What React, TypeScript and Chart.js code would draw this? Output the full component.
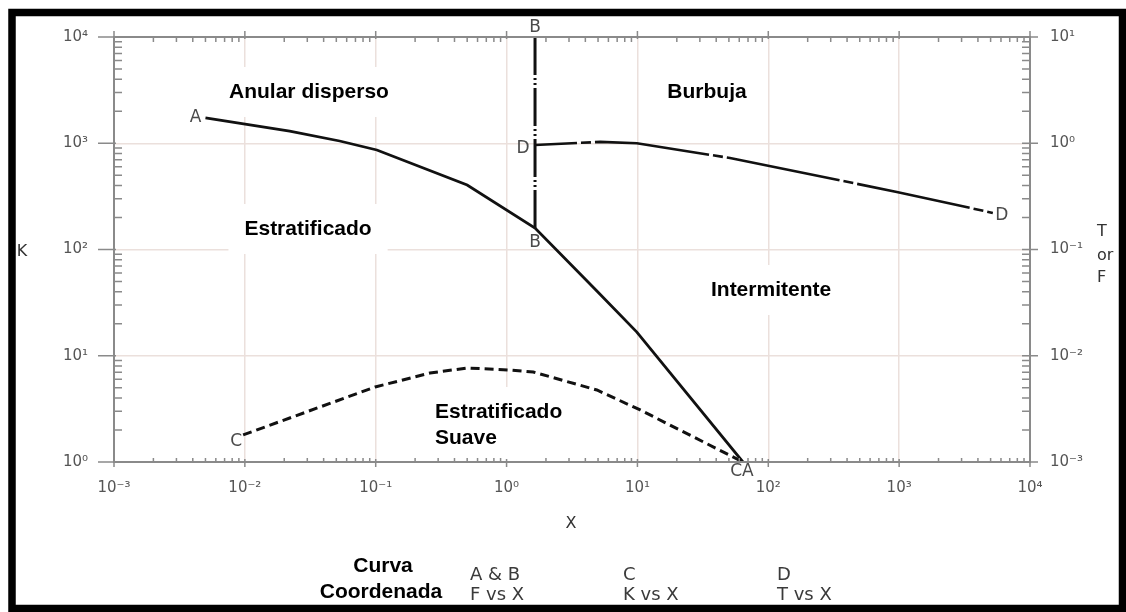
import React, { useEffect, useRef } from "react";
import { Chart, registerables } from "chart.js";

Chart.register(...registerables);

// ---- Axis ranges ----
const X_MIN = 1e-3;
const X_MAX = 1e4;
const K_MIN = 1;
const K_MAX = 1e4;
const TF_MIN = 1e-3;
const TF_MAX = 10;

// ---- Tick exponents ----
const xExponents = [-3, -2, -1, 0, 1, 2, 3, 4];
const kExponents = [0, 1, 2, 3, 4];
const tfExponents = [-3, -2, -1, 0, 1];

// ---- Curve A (F vs X) ----
const curveAX = [0.005, 0.022, 0.053, 0.102, 0.5, 1.65, 4.9, 9.9, 64];
const curveAF = [1.73, 1.3, 1.05, 0.864, 0.405, 0.159, 0.0407, 0.0167, 0.001];

// ---- Curve B (F vs X) ----
const curveBX = [1.65, 1.65];
const curveBF = [10, 0.159];

// ---- Curve C (K vs X) ----
const curveCX = [0.0097, 0.099, 0.26, 0.5, 1.06, 1.6, 4.9, 10.5, 64];
const curveCK = [1.8, 5.08, 6.88, 7.67, 7.34, 7.03, 4.76, 3.09, 1.0];

// ---- Curve D (T vs X) ----
const curveDX = [1.65, 5.2, 9.9, 51, 960, 5200];
const curveDT = [0.963, 1.03, 1.0, 0.726, 0.348, 0.221];

// ---- Region labels (anchored at X, K) ----
const regionLabels = [
  { lines: ["Anular disperso"], x: 0.0309, k: 3035, align: "center" },
  { lines: ["Burbuja"], x: 34.0, k: 3035, align: "center" },
  { lines: ["Estratificado"], x: 0.0304, k: 156, align: "center" },
  { lines: ["Intermitente"], x: 105, k: 41.6, align: "center" },
  { lines: ["Estratificado", "Suave"], x: 0.284, k: 2.23, align: "left" },
];

// ---- Legend texts at the bottom ----
const legendTitle = ["Curva", "Coordenada"];
const legendCols = [
  ["A & B", "F vs X"],
  ["C", "K vs X"],
  ["D", "T vs X"],
];

const SUP: Record<string, string> = {
  "-": "\u207B",
  "0": "\u2070",
  "1": "\u00B9",
  "2": "\u00B2",
  "3": "\u00B3",
  "4": "\u2074",
  "5": "\u2075",
  "6": "\u2076",
  "7": "\u2077",
  "8": "\u2078",
  "9": "\u2079",
};

function powLabel(v: number): string {
  const e = Math.round(Math.log10(v));
  return "10" + String(e).split("").map((c) => SUP[c] || c).join("");
}

function zip(xs: number[], ys: number[]) {
  return xs.map((x, i) => ({ x, y: ys[i] }));
}

const AXIS_COLOR = "#8a8a8a";
const GRID_COLOR = "#ebe0dc";
const TICK_FONT = '"DejaVu Sans", sans-serif';
const BOLD_FONT = '"Liberation Sans", Arial, sans-serif';

function text(
  ctx: CanvasRenderingContext2D,
  s: string,
  x: number,
  y: number,
  font: string,
  color: string,
  align: CanvasTextAlign = "center",
  baseline: CanvasTextBaseline = "middle"
) {
  ctx.save();
  ctx.font = font;
  ctx.fillStyle = color;
  ctx.textAlign = align;
  ctx.textBaseline = baseline;
  ctx.fillText(s, x, y);
  ctx.restore();
}

const decorPlugin = {
  id: "decor",
  beforeDraw(chart: any) {
    const ctx = chart.ctx as CanvasRenderingContext2D;
    ctx.save();
    ctx.fillStyle = "#ffffff";
    ctx.fillRect(0, 0, chart.width, chart.height);
    ctx.restore();
  },
  beforeDatasetsDraw(chart: any) {
    const ctx = chart.ctx as CanvasRenderingContext2D;
    const xs = chart.scales.x;
    const ys = chart.scales.y;
    const font = "bold 21px " + BOLD_FONT;
    const lineH = 26;
    regionLabels.forEach((r) => {
      const px = xs.getPixelForValue(r.x);
      const py = ys.getPixelForValue(r.k);
      ctx.save();
      ctx.font = font;
      const w = Math.max(...r.lines.map((l) => ctx.measureText(l).width));
      const h = lineH * r.lines.length;
      const left = r.align === "left" ? px : px - w / 2;
      ctx.fillStyle = "#ffffff";
      ctx.fillRect(left - 16, py - h / 2 - 12, w + 32, h + 24);
      ctx.restore();
      r.lines.forEach((l, i) => {
        const ly = py - h / 2 + lineH * (i + 0.5);
        text(ctx, l, px, ly, font, "#000", r.align as CanvasTextAlign);
      });
    });
  },
  afterDraw(chart: any) {
    const ctx = chart.ctx as CanvasRenderingContext2D;
    const a = chart.chartArea;
    const xs = chart.scales.x;
    const ys = chart.scales.y;
    const y1 = chart.scales.y1;

    // axis box
    ctx.save();
    ctx.strokeStyle = AXIS_COLOR;
    ctx.lineWidth = 2;
    ctx.strokeRect(a.left, a.top, a.right - a.left, a.bottom - a.top);

    // ticks
    ctx.lineWidth = 1.5;
    ctx.beginPath();
    for (let e = -3; e <= 4; e++) {
      const major = xs.getPixelForValue(Math.pow(10, e));
      ctx.moveTo(major, a.bottom - 3);
      ctx.lineTo(major, a.bottom + 5);
      ctx.moveTo(major, a.top + 2);
      ctx.lineTo(major, a.top - 6);
      if (e < 4) {
        for (let m = 2; m <= 9; m++) {
          const p = xs.getPixelForValue(m * Math.pow(10, e));
          ctx.moveTo(p, a.bottom - 4);
          ctx.lineTo(p, a.bottom + 1);
          ctx.moveTo(p, a.top);
          ctx.lineTo(p, a.top + 5);
        }
      }
    }
    for (let e = 0; e <= 4; e++) {
      const major = ys.getPixelForValue(Math.pow(10, e));
      ctx.moveTo(a.left - 16, major);
      ctx.lineTo(a.left + 2, major);
      ctx.moveTo(a.right - 8, major);
      ctx.lineTo(a.right + 8, major);
      if (e < 4) {
        for (let m = 2; m <= 9; m++) {
          const p = ys.getPixelForValue(m * Math.pow(10, e));
          ctx.moveTo(a.left, p);
          ctx.lineTo(a.left + 8, p);
          ctx.moveTo(a.right, p);
          ctx.lineTo(a.right - 8, p);
        }
      }
    }
    ctx.stroke();
    ctx.restore();

    // curve letters
    const lf = "17px " + TICK_FONT;
    const lc = "#4a4a4a";
    const pA0x = xs.getPixelForValue(curveAX[0]);
    const pA0y = y1.getPixelForValue(curveAF[0]);
    text(ctx, "A", pA0x - 10, pA0y, lf, lc);
    const pBtx = xs.getPixelForValue(curveBX[0]);
    const pBty = y1.getPixelForValue(curveBF[0]);
    text(ctx, "B", pBtx, pBty - 9, lf, lc);
    const pBby = y1.getPixelForValue(curveBF[1]);
    text(ctx, "B", pBtx, pBby + 14, lf, lc);
    const pD0x = xs.getPixelForValue(curveDX[0]);
    const pD0y = y1.getPixelForValue(curveDT[0]);
    text(ctx, "D", pD0x - 12, pD0y + 4, lf, lc);
    const pDnx = xs.getPixelForValue(curveDX[curveDX.length - 1]);
    const pDny = y1.getPixelForValue(curveDT[curveDT.length - 1]);
    text(ctx, "D", pDnx + 9, pDny + 3, lf, lc);
    const pC0x = xs.getPixelForValue(curveCX[0]);
    const pC0y = ys.getPixelForValue(curveCK[0]);
    text(ctx, "C", pC0x - 7, pC0y + 7, lf, lc);
    const pCAx = xs.getPixelForValue(curveAX[curveAX.length - 1]);
    const pCAy = y1.getPixelForValue(curveAF[curveAF.length - 1]);
    text(ctx, "CA", pCAx - 1, pCAy + 10, lf, lc);

    // axis titles
    const af = "16px " + TICK_FONT;
    const ac = "#333";
    text(ctx, "K", 22, ys.getPixelForValue(100) + 2, af, ac);
    text(ctx, "X", (a.left + a.right) / 2 - 1, 524, af, ac);
    text(ctx, "T", 1097, 232, af, ac, "left");
    text(ctx, "or", 1097, 256, af, ac, "left");
    text(ctx, "F", 1097, 278, af, ac, "left");

    // bottom legend
    const bf = "bold 21px " + BOLD_FONT;
    text(ctx, legendTitle[0], 383, 566, bf, "#000");
    text(ctx, legendTitle[1], 381, 592, bf, "#000");
    const lgf = "18px " + TICK_FONT;
    const colX = [470, 623, 777];
    legendCols.forEach((c, i) => {
      text(ctx, c[0], colX[i], 575, lgf, "#3a3a3a", "left");
      text(ctx, c[1], colX[i], 595, lgf, "#3a3a3a", "left");
    });

    // frame
    ctx.save();
    ctx.strokeStyle = "#000";
    ctx.lineWidth = 7.5;
    ctx.strokeRect(12, 12.5, 1110.5, 596);
    ctx.restore();
  },
};

function decadeTicks(exps: number[]) {
  return exps.map((e) => ({ value: Math.pow(10, e) }));
}

export default function App() {
  const ref = useRef<HTMLCanvasElement | null>(null);

  useEffect(() => {
    if (!ref.current) return;
    const chart = new Chart(ref.current, {
      type: "scatter",
      data: {
        datasets: [
          {
            label: "A",
            data: zip(curveAX, curveAF),
            yAxisID: "y1",
            showLine: true,
            borderColor: "#111",
            borderWidth: 2.8,
            pointRadius: 0,
            tension: 0,
          },
          {
            label: "B",
            data: zip(curveBX, curveBF),
            yAxisID: "y1",
            showLine: true,
            borderColor: "#111",
            borderWidth: 3,
            borderDash: [38, 3, 2, 3, 2, 3],
            pointRadius: 0,
          },
          {
            label: "C",
            data: zip(curveCX, curveCK),
            yAxisID: "y",
            showLine: true,
            borderColor: "#111",
            borderWidth: 3,
            borderDash: [9, 5],
            pointRadius: 0,
            tension: 0,
          },
          {
            label: "D",
            data: zip(curveDX, curveDT),
            yAxisID: "y1",
            showLine: true,
            borderColor: "#111",
            borderWidth: 2.6,
            borderDash: [115, 4, 10, 4],
            borderDashOffset: 73,
            pointRadius: 0,
            tension: 0,
          },
        ],
      },
      options: {
        animation: false,
        responsive: false,
        layout: { padding: { top: 37, left: 0, right: 0, bottom: 0 } },
        plugins: {
          legend: { display: false },
          tooltip: { enabled: false },
          title: { display: false },
        },
        scales: {
          x: {
            type: "logarithmic",
            position: "bottom",
            min: X_MIN,
            max: X_MAX,
            afterBuildTicks: (s: any) => {
              s.ticks = decadeTicks(xExponents);
            },
            afterFit: (s: any) => {
              s.height = 150;
            },
            grid: { color: GRID_COLOR, lineWidth: 1.5, drawTicks: false },
            border: { display: false },
            ticks: {
              autoSkip: false,
              maxRotation: 0,
              padding: 17,
              color: "#555",
              font: { family: "DejaVu Sans", size: 15 },
              callback: (v: any) => powLabel(Number(v)),
            },
          },
          y: {
            type: "logarithmic",
            position: "left",
            min: K_MIN,
            max: K_MAX,
            afterBuildTicks: (s: any) => {
              s.ticks = decadeTicks(kExponents);
            },
            afterFit: (s: any) => {
              s.width = 114;
            },
            grid: { color: GRID_COLOR, lineWidth: 1.5, drawTicks: false },
            border: { display: false },
            ticks: {
              autoSkip: false,
              padding: 26,
              color: "#555",
              font: { family: "DejaVu Sans", size: 15 },
              callback: (v: any) => powLabel(Number(v)),
            },
          },
          y1: {
            type: "logarithmic",
            position: "right",
            min: TF_MIN,
            max: TF_MAX,
            afterBuildTicks: (s: any) => {
              s.ticks = decadeTicks(tfExponents);
            },
            afterFit: (s: any) => {
              s.width = 96;
            },
            grid: { display: false, drawTicks: false },
            border: { display: false },
            ticks: {
              autoSkip: false,
              padding: 20,
              color: "#555",
              font: { family: "DejaVu Sans", size: 15 },
              callback: (v: any) => powLabel(Number(v)),
            },
          },
        },
      },
      plugins: [decorPlugin],
    } as any);
    return () => chart.destroy();
  }, []);

  return (
    <div
      style={{
        position: "fixed",
        left: 0,
        top: 0,
        width: 1126,
        height: 612,
        background: "#fff",
      }}
    >
      <canvas ref={ref} width={1126} height={612} style={{ display: "block", width: 1126, height: 612 }} />
    </div>
  );
}
